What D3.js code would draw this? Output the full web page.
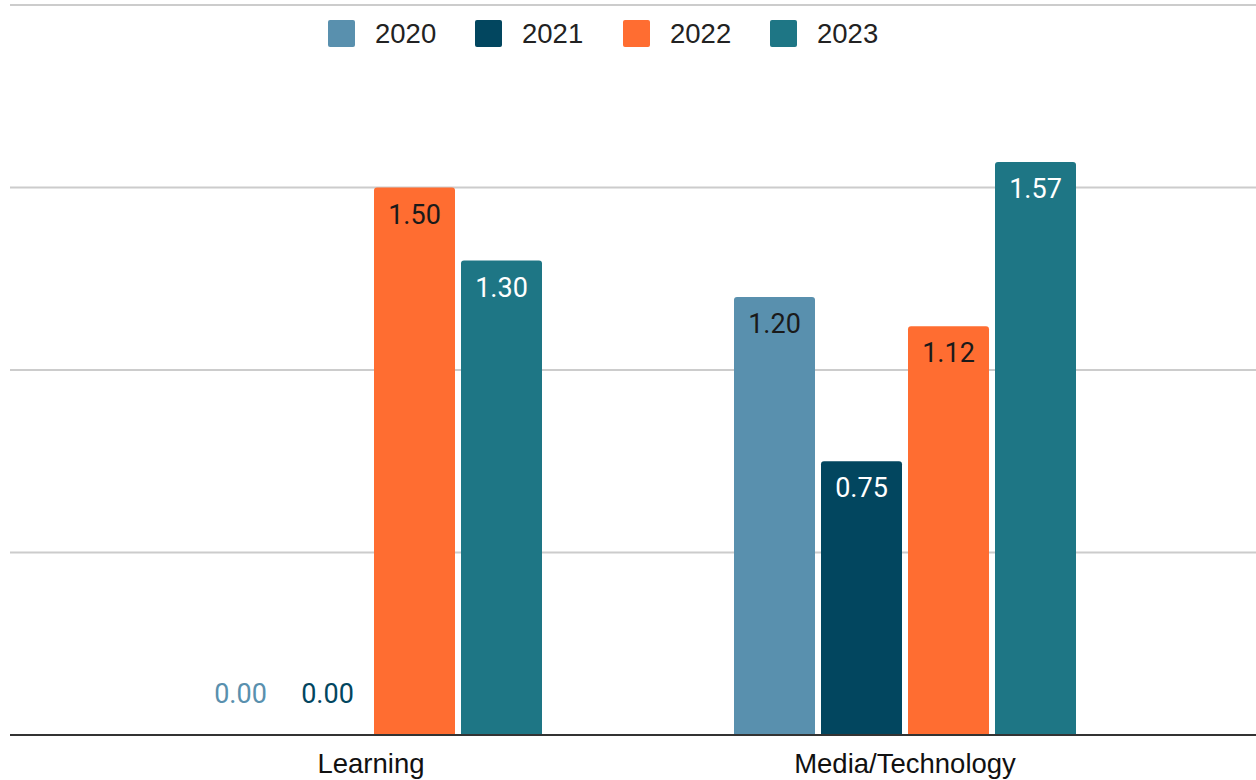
<!DOCTYPE html>
<html>
<head>
<meta charset="utf-8">
<script src="https://cdn.jsdelivr.net/npm/d3@7"></script>
<style>
  html, body { margin: 0; padding: 0; background: #fff; }
  svg { display: block; }
</style>
</head>
<body>
<svg id="chart" width="1256" height="780"></svg>
<script>
const categories = ["Learning", "Media/Technology"];
const years = ["2020", "2021", "2022", "2023"];
const values2020 = [0.00, 1.20];
const values2021 = [0.00, 0.75];
const values2022 = [1.50, 1.12];
const values2023 = [1.30, 1.57];
const gridTicks = [0, 0.5, 1.0, 1.5, 2.0];

const seriesValues = [values2020, values2021, values2022, values2023];
const colors = ["#5990ae", "#02465f", "#ff6d31", "#1e7685"];
const labelColors = ["#1a1a1a", "#ffffff", "#1a1a1a", "#ffffff"];

const svg = d3.select("#chart");
const W = 1256, H = 780;

const y = d3.scaleLinear().domain([0, 2]).range([735, 5]);
const x0 = d3.scaleBand().domain(categories).range([104, 1172]).padding(0);
const x1 = d3.scaleBand().domain(years).range([0, 342]).paddingInner(6 / 87);
const groupOffset = x0.bandwidth() / 2 - 171;
const color = d3.scaleOrdinal().domain(years).range(colors);

// gridlines
svg.append("g").selectAll("line")
  .data(gridTicks.filter(d => d > 0))
  .join("line")
  .attr("x1", 10).attr("x2", W)
  .attr("y1", d => y(d)).attr("y2", d => y(d))
  .attr("stroke", "#cccccc").attr("stroke-width", 2);

// bars
const data = [];
categories.forEach((c, ci) => {
  years.forEach((yr, si) => {
    data.push({ cat: c, year: yr, si, value: seriesValues[si][ci] });
  });
});

function barPath(xl, w, yt, yb, r) {
  const h = yb - yt;
  if (h <= 0) return "";
  r = Math.min(r, h, w / 2);
  return `M${xl},${yb}V${yt + r}Q${xl},${yt} ${xl + r},${yt}H${xl + w - r}Q${xl + w},${yt} ${xl + w},${yt + r}V${yb}Z`;
}

const bx = d => x0(d.cat) + groupOffset + x1(d.year);

svg.append("g").selectAll("path")
  .data(data.filter(d => d.value > 0))
  .join("path")
  .attr("d", d => barPath(bx(d), x1.bandwidth(), y(d.value), y(0), 3))
  .attr("fill", d => color(d.year));

// data labels
svg.append("g").selectAll("text")
  .data(data)
  .join("text")
  .attr("x", d => bx(d) + x1.bandwidth() / 2)
  .attr("y", d => d.value > 0 ? y(d.value) + 36 : y(0) - 32)
  .attr("text-anchor", "middle")
  .attr("font-family", "Roboto, 'Liberation Sans', sans-serif")
  .attr("font-size", 27)
  .attr("fill", d => d.value > 0 ? labelColors[d.si] : color(d.year))
  .text(d => d.value.toFixed(2));

// baseline
svg.append("line")
  .attr("x1", 10).attr("x2", W)
  .attr("y1", y(0)).attr("y2", y(0))
  .attr("stroke", "#333333").attr("stroke-width", 2);

// category axis
const xAxis = d3.axisBottom(x0).tickSize(0).tickPadding(0);
const ax = svg.append("g").attr("transform", `translate(0, ${y(0)})`).call(xAxis);
ax.select(".domain").remove();
ax.selectAll("text")
  .attr("dy", null)
  .attr("y", 38)
  .attr("font-family", "'Liberation Sans', Arial, sans-serif")
  .attr("font-size", 27.5)
  .attr("fill", "#111");

// legend
const legendX = [328, 475, 623, 770];
const lg = svg.append("g").selectAll("g")
  .data(years)
  .join("g")
  .attr("transform", (d, i) => `translate(${legendX[i]}, 20)`);
lg.append("rect")
  .attr("width", 27).attr("height", 27)
  .attr("rx", 2).attr("ry", 2)
  .attr("fill", d => color(d));
lg.append("text")
  .attr("x", 47).attr("y", 23)
  .attr("font-family", "'Liberation Sans', Arial, sans-serif")
  .attr("font-size", 27.5)
  .attr("fill", "#222")
  .text(d => d);
</script>
</body>
</html>
